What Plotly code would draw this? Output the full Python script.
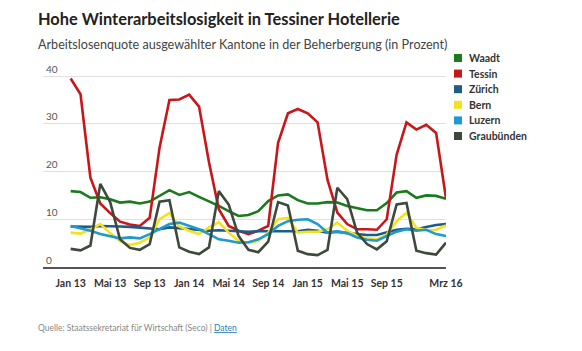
import plotly.graph_objects as go

months = ["Jan 13", "Feb 13", "Mrz 13", "Apr 13", "Mai 13", "Jun 13", "Jul 13", "Aug 13", "Sep 13", "Okt 13", "Nov 13", "Dez 13",
          "Jan 14", "Feb 14", "Mrz 14", "Apr 14", "Mai 14", "Jun 14", "Jul 14", "Aug 14", "Sep 14", "Okt 14", "Nov 14", "Dez 14",
          "Jan 15", "Feb 15", "Mrz 15", "Apr 15", "Mai 15", "Jun 15", "Jul 15", "Aug 15", "Sep 15", "Okt 15", "Nov 15", "Dez 15",
          "Jan 16", "Feb 16", "Mrz 16"]

waadt = [15.9, 15.7, 14.5, 14.6, 14.2, 13.5, 13.7, 13.3, 13.7, 14.9, 16.1, 15.1, 15.7,
         14.7, 13.8, 12.8, 11.7, 10.7, 10.9, 11.7, 13.8, 15.0, 15.2, 14.0,
         13.3, 13.3, 13.6, 13.5, 12.8, 12.3, 11.9, 11.9, 13.4, 15.6, 15.9, 14.5, 15.0, 14.9, 14.3]
tessin = [39.5, 36.2, 18.7, 13.3, 11.3, 9.5, 8.9, 8.6, 10.3, 25.0, 35.0, 35.1, 36.1,
          33.6, 22.0, 12.1, 8.6, 7.6, 6.9, 7.6, 8.6, 26.0, 32.2, 33.1,
          32.2, 30.3, 18.3, 11.4, 9.0, 7.9, 7.9, 7.8, 10.0, 23.5, 30.3, 28.8, 29.8, 28.1, 14.4]
zuerich = [8.5, 8.4, 8.4, 8.6, 8.6, 8.5, 8.4, 8.2, 8.0, 7.9, 8.3, 8.1, 7.9,
           7.8, 7.6, 7.7, 7.6, 7.4, 7.4, 7.5, 7.5, 7.6, 7.6, 7.5,
           7.8, 7.6, 7.2, 7.4, 7.1, 6.9, 6.7, 6.7, 7.2, 7.8, 8.0, 7.9, 8.4, 8.8, 9.0]
bern = [7.2, 7.0, 7.9, 9.0, 7.1, 5.4, 4.6, 5.1, 6.2, 10.0, 11.3, 8.5, 7.6,
        6.9, 8.3, 9.4, 7.2, 5.5, 5.1, 5.5, 7.2, 10.0, 10.3, 7.2,
        7.4, 7.4, 7.9, 9.3, 7.6, 6.5, 6.0, 5.8, 6.8, 9.6, 11.4, 8.2, 7.7, 7.8, 8.7]
luzern = [8.6, 8.1, 7.6, 6.9, 6.5, 6.0, 6.2, 6.0, 6.9, 7.9, 9.0, 9.3, 8.6,
          7.9, 6.9, 5.8, 5.5, 5.1, 5.2, 5.8, 6.9, 8.6, 9.6, 9.9,
          10.0, 9.0, 7.2, 7.4, 7.1, 6.2, 5.7, 5.5, 6.5, 7.4, 7.9, 7.6, 7.8, 6.9, 6.5]
graubuenden = [3.8, 3.5, 4.5, 17.4, 13.6, 5.8, 4.0, 3.6, 4.8, 13.7, 14.0, 4.1, 3.2,
               2.7, 4.1, 15.9, 13.1, 6.5, 3.6, 3.1, 5.3, 13.6, 12.9, 3.4,
               2.7, 2.5, 3.6, 16.6, 14.2, 7.2, 4.8, 3.7, 5.4, 13.1, 13.4, 3.4, 2.9, 2.6, 5.1]

series_names = ["Waadt", "Tessin", "Zürich", "Bern", "Luzern", "Graubünden"]
series_values = [waadt, tessin, zuerich, bern, luzern, graubuenden]
series_colors = ["#1a7a1c", "#c8161b", "#1d5c8a", "#f5e21f", "#1e9ad0", "#3d4a3b"]

x_ticks = ["Jan 13", "Mai 13", "Sep 13", "Jan 14", "Mai 14", "Sep 14", "Jan 15", "Mai 15", "Sep 15", "Mrz 16"]
y_ticks = [0, 10, 20, 30, 40]

W, H = 582, 351
L, R, T, B = 43, 136, 57, 84
pw, ph = W - L - R, H - T - B

def px(xp):
    return (xp - L) / pw

def py(yp):
    return (H - B - yp) / ph

fig = go.Figure()
for name, vals, col in zip(series_names, series_values, series_colors):
    fig.add_trace(go.Scatter(x=months, y=vals, mode="lines", name=name,
                             line=dict(color=col, width=2.6), showlegend=False))

fig.update_layout(
    width=W, height=H,
    margin=dict(l=L, r=R, t=T, b=B),
    paper_bgcolor="white", plot_bgcolor="white",
    font=dict(family="Lato", color="#333"),
    xaxis=dict(type="category", range=[-2.8, 38], tickvals=x_ticks, ticktext=x_ticks,
               showgrid=False, showline=True, linecolor="#555", linewidth=1.5,
               ticks="", tickfont=dict(size=10.5, color="#333", weight="bold"), ticklabelstandoff=6),
    yaxis=dict(range=[0, 44], tickvals=y_ticks, ticklabelposition="inside top",
               showgrid=True, gridcolor="#e0e0e0", gridwidth=1, zeroline=False, showline=False,
               ticks="", tickfont=dict(size=10, color="#555")),
)

ann = []
ann.append(dict(text="<b>Hohe Winterarbeitslosigkeit in Tessiner Hotellerie</b>", x=px(36), y=py(19),
                xref="paper", yref="paper", xanchor="left", yanchor="middle", showarrow=False,
                font=dict(size=16.4, color="#222")))
ann.append(dict(text="Arbeitslosenquote ausgewählter Kantone in der Beherbergung (in Prozent)", x=px(36), y=py(44),
                xref="paper", yref="paper", xanchor="left", yanchor="middle", showarrow=False,
                font=dict(size=12.6, color="#444")))
ann.append(dict(text="Quelle: Staatssekretariat für Wirtschaft (Seco) | <span style='color:#2a7fb5'><u>Daten</u></span>",
                x=px(36), y=py(328), xref="paper", yref="paper", xanchor="left", yanchor="middle",
                showarrow=False, font=dict(size=8.5, color="#888")))

shapes = []
for k, (name, col) in enumerate(zip(series_names, series_colors)):
    yc = 58 + 15.6 * k
    shapes.append(dict(type="rect", xref="paper", yref="paper", x0=px(454), x1=px(462),
                       y0=py(yc + 4), y1=py(yc - 4), fillcolor=col, line=dict(width=0)))
    ann.append(dict(text="<b>" + name + "</b>", x=px(467), y=py(yc), xref="paper", yref="paper",
                    xanchor="left", yanchor="middle", showarrow=False,
                    font=dict(size=10.5, color="#333")))

fig.update_layout(annotations=ann, shapes=shapes)
fig.write_html("out.html")
